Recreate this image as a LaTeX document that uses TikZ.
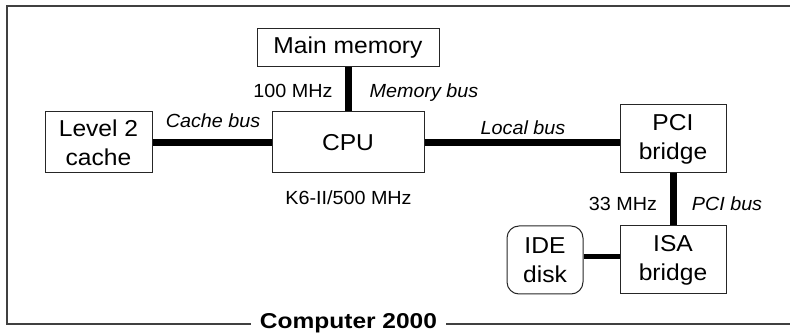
\documentclass[tikz,border=0pt]{standalone}
\usepackage{fontspec}
\setmainfont{Liberation Sans}
\newfontfamily\boxfont[FakeStretch=1.07]{Liberation Sans}
\newfontfamily\labfont[FakeStretch=1.04]{Liberation Sans}
\newfontfamily\titfont[FakeStretch=1.14]{Liberation Sans}
\begin{document}
\begin{tikzpicture}[x=1pt,y=-1pt,
  box/.style={draw=black!85,line width=1pt,rectangle,inner sep=0pt,align=center,
    font=\boxfont\fontsize{23}{29}\selectfont},
  bus/.style={line width=7pt},
  lab/.style={inner sep=0pt,anchor=base,font=\labfont\fontsize{19}{22}\selectfont},
  ilab/.style={lab,font=\labfont\fontsize{19}{22}\selectfont\itshape}]
\useasboundingbox (0,0) rectangle (790,336);
% frame
\coordinate (tr) at (790,6);
\coordinate (tl) at (7,6);
\coordinate (bl) at (7,324);
\coordinate (br) at (790,324);
\draw[black!75,line width=1.5pt] (tr) -- (tl) -- (bl) -- (br);
\node[fill=white,inner xsep=9pt,inner ysep=1pt,anchor=base,font=\titfont\fontsize{21.5}{24}\selectfont\bfseries] (title) at (348.5,328.5) {Computer 2000};
% boxes
\node[box,minimum width=182pt,minimum height=38pt] (mem) at (348,48) {Main memory};
\node[box,minimum width=107pt,minimum height=61pt] (l2) at (98.5,142.5) {Level 2\\cache};
\node[box,minimum width=152pt,minimum height=61pt] (cpu) at (348,142.5) {CPU};
\node[box,minimum width=106pt,minimum height=68pt] (pci) at (673,139) {PCI\\bridge};
\node[box,minimum width=106pt,minimum height=68pt] (isa) at (673,260) {ISA\\bridge};
\node[box,minimum width=76pt,minimum height=68pt,rounded corners=12pt] (ide) at (545,260) {IDE\\disk};
% buses
\draw[bus] (mem.south) -- (cpu.north);
\draw[bus] (l2.east) -- (cpu.west);
\draw[bus] (cpu.east) -- (cpu.east -| pci.west);
\draw[bus] (pci.south) -- (isa.north);
\draw[line width=5pt] ([yshift=3pt]ide.east) -- ([yshift=3pt]ide.east -| isa.west);
% labels
\node[lab] (l100) at (293,98) {100 MHz};
\node[ilab] (lmem) at (424,98) {Memory bus};
\node[ilab] (lcache) at (213,128) {Cache bus};
\node[ilab] (llocal) at (523,135) {Local bus};
\node[lab] (lk6) at (348.5,205) {K6-II/500 MHz};
\node[lab] (l33) at (623,211) {33 MHz};
\node[ilab] (lpci) at (727,211) {PCI bus};
\end{tikzpicture}
\end{document}
